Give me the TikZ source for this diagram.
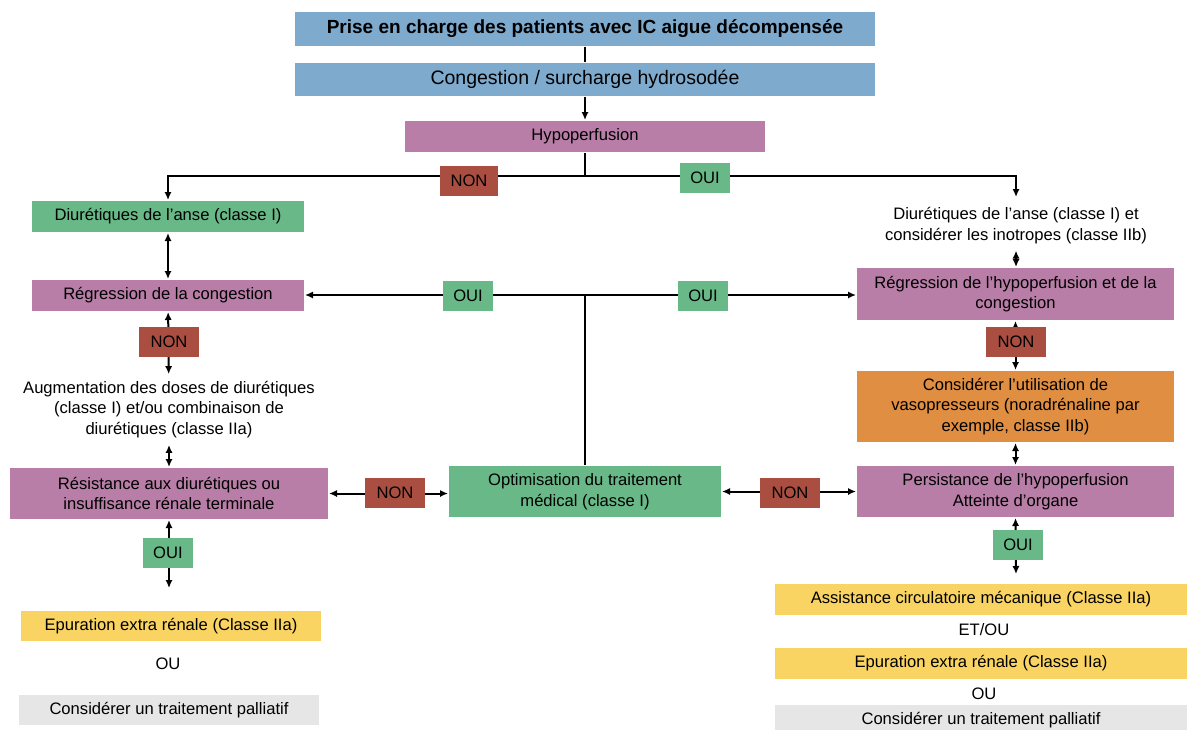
\documentclass[tikz,border=0pt]{standalone}
\usepackage{fontspec}
\setmainfont{Liberation Sans}
\usetikzlibrary{arrows.meta,positioning}
\definecolor{icblue}{RGB}{126,170,206}
\definecolor{icpink}{RGB}{184,126,167}
\definecolor{icgreen}{RGB}{104,185,135}
\definecolor{icred}{RGB}{169,78,64}
\definecolor{icorange}{RGB}{224,142,65}
\definecolor{icyellow}{RGB}{250,212,98}
\definecolor{icgray}{RGB}{230,230,230}
\begin{document}
\begin{tikzpicture}[x=0.5pt, y=-0.5pt, line width=1pt, >={Latex[length=4pt,width=3.6pt]},
    box/.style = {inner sep=0pt, align=center, font=\fontsize{8.3}{10.3}\selectfont},
    bluebox/.style = {box, fill=icblue, minimum width=290pt, font=\fontsize{9.75}{12}\selectfont},
    pinkbox/.style = {box, fill=icpink, minimum width=158.5pt},
    greenbox/.style = {box, fill=icgreen, minimum width=136pt},
    yellowbox/.style = {box, fill=icyellow, minimum width=150pt, minimum height=15pt},
    graybox/.style = {box, fill=icgray, minimum width=150pt, minimum height=15pt},
    plain/.style = {box, inner sep=3pt},
    nonbox/.style = {box, fill=icred, minimum width=30pt, minimum height=15pt},
    ouibox/.style = {box, fill=icgreen, minimum width=25pt, minimum height=15pt}]
    \useasboundingbox (0,0) rectangle (1187,729);
    % boites principales
    \node[bluebox, minimum height=17pt, font=\bfseries\fontsize{9.5}{12}\selectfont] (title) at (585,28.5) {Prise en charge des patients avec IC aigue décompensée};
    \node[bluebox, minimum height=16.5pt] (cong) at (585,79) {Congestion / surcharge hydrosodée};
    \node[pinkbox, minimum width=180pt, minimum height=15.5pt] (hypo) at (585,136.5) {Hypoperfusion};
    \node[greenbox, minimum height=15.5pt] (diurL) at (168,216.5) {Diurétiques de l’anse (classe I)};
    \node[plain] (diurR) at (1016,225.5) {Diurétiques de l’anse (classe I) et\\considérer les inotropes (classe IIb)};
    \node[pinkbox, minimum width=136pt, minimum height=15.5pt] (regL) at (168,295.5) {Régression de la congestion};
    \node[pinkbox, minimum height=26pt] (regR) at (1015.5,294) {Régression de l’hypoperfusion et de la\\congestion};
    \node[plain] (augm) at (169,409.5) {Augmentation des doses de diurétiques\\(classe I) et/ou combinaison de\\diurétiques (classe IIa)};
    \node[pinkbox, minimum width=159pt, minimum height=25.5pt] (resist) at (169,493.5) {Résistance aux diurétiques ou\\insuffisance rénale terminale};
    \node[greenbox, minimum height=25.5pt] (optim) at (585,491.5) {Optimisation du traitement\\médical (classe I)};
    \node[box, fill=icorange, minimum width=158.5pt, minimum height=35.5pt] (vaso) at (1015.5,406.5) {Considérer l’utilisation de\\vasopresseurs (noradrénaline par\\exemple, classe IIb)};
    \node[pinkbox, minimum height=25.5pt] (persist) at (1015.5,491.5) {Persistance de l’hypoperfusion\\Atteinte d’organe};
    % issues
    \node[yellowbox] (epurL) at (171,626) {Epuration extra rénale (Classe IIa)};
    \node[plain] (ouL) at (168,664) {OU};
    \node[graybox] (pallL) at (169,710) {Considérer un traitement palliatif};
    \node[yellowbox, minimum width=206pt, minimum height=15.5pt] (assist) at (981,599.5) {Assistance circulatoire mécanique (Classe IIa)};
    \node[plain] (etou) at (984,630) {ET/OU};
    \node[yellowbox, minimum width=206pt, minimum height=15.5pt] (epurR) at (981,663.5) {Epuration extra rénale (Classe IIa)};
    \node[plain] (ouR) at (984,694) {OU};
    \node[graybox, minimum width=206pt] (pallR) at (981,720) {Considérer un traitement palliatif};
    % connecteurs
    \coordinate (split) at (585,176);
    \coordinate (diurRtop) at (1016,197);
    \coordinate (junc) at (585,295);
    \coordinate (resistout) at (169,588);
    \coordinate (persistout) at (1016,574);
    \draw (title) -- (cong);
    \draw[->] (cong) -- (hypo);
    \draw (hypo) -- (split);
    \draw[->] (split) -| (diurL);
    \draw[->] (split) -| (diurRtop);
    \draw[<->] (diurL) -- (regL);
    \draw[<->] (diurR.south) -- (diurR.south |- regR.north);
    \draw (optim) -- (junc);
    \draw[->] (junc) -- (junc -| regL.east);
    \draw[->] (junc) -- (junc -| regR.west);
    \draw[<->] (regL) -- (augm);
    \draw[<->] (augm) -- (resist);
    \draw[<->] (resist.east) -- (resist.east -| optim.west);
    \draw[<->] (optim.east) -- (optim.east -| persist.west);
    \draw[<->] (regR) -- (vaso);
    \draw[<->] (vaso) -- (persist);
    \draw[<->] (resist) -- (resistout);
    \draw[<->] (persist.south) -- (persistout);
    % etiquettes OUI / NON
    \node[nonbox, minimum width=29pt] (non1) at (469,181) {NON};
    \node[ouibox] (oui1) at (705,178) {OUI};
    \node[ouibox] (oui2) at (468,295.5) {OUI};
    \node[ouibox] (oui3) at (703,296) {OUI};
    \node[nonbox] (non2) at (169,342) {NON};
    \node[nonbox] (non3) at (1016,342) {NON};
    \node[nonbox] (non4) at (395,493) {NON};
    \node[nonbox] (non5) at (790,493) {NON};
    \node[ouibox] (oui4) at (168,553) {OUI};
    \node[ouibox] (oui5) at (1018,545) {OUI};
\end{tikzpicture}
\end{document}
